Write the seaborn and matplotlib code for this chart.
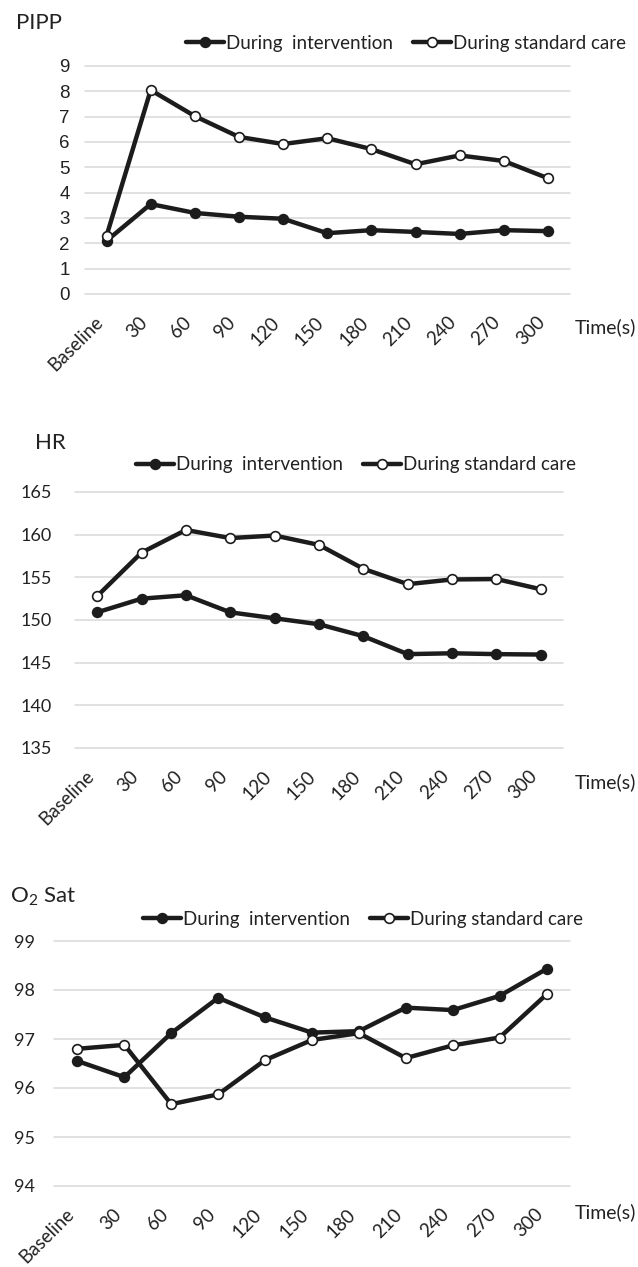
import numpy as np
import pandas as pd
import seaborn as sns
import matplotlib.pyplot as plt
from matplotlib.transforms import ScaledTranslation

# data
time_labels = ["Baseline", "30", "60", "90", "120", "150", "180", "210", "240", "270", "300"]

pipp_intervention = [2.1, 3.55, 3.2, 3.05, 2.97, 2.4, 2.52, 2.45, 2.37, 2.52, 2.48]
pipp_standard = [2.3, 8.05, 7.02, 6.2, 5.92, 6.15, 5.72, 5.12, 5.47, 5.25, 4.57]

hr_intervention = [150.9, 152.5, 152.9, 150.9, 150.2, 149.5, 148.1, 146.0, 146.1, 146.0, 145.95]
hr_standard = [152.8, 157.9, 160.55, 159.6, 159.9, 158.8, 156.0, 154.2, 154.75, 154.8, 153.6]

o2_intervention = [96.55, 96.22, 97.12, 97.84, 97.44, 97.13, 97.16, 97.64, 97.59, 97.88, 98.43]
o2_standard = [96.8, 96.88, 95.67, 95.87, 96.57, 96.98, 97.12, 96.61, 96.87, 97.03, 97.91]

sns.set_theme(style="white")
plt.rcParams["font.family"] = ["Lato", "DejaVu Sans"]
plt.rcParams["mathtext.fontset"] = "custom"
plt.rcParams["mathtext.rm"] = "Lato"
plt.rcParams["mathtext.it"] = "Lato"
plt.rcParams["mathtext.bf"] = "Lato"

W, H = 638, 1267
fig = plt.figure(figsize=(W / 100, H / 100), dpi=100)

LINE = "#1c1c1c"
TXT = "#222222"


def px_axes(left, right, top, bottom):
    return fig.add_axes([left / W, 1 - bottom / H, (right - left) / W, (bottom - top) / H])


# (title, intervention, standard, yticks, axes box, tick pad, title pos, legend pos, time(s) y, ytick font)
panels = [
    ("PIPP", pipp_intervention, pipp_standard, np.arange(0, 10, 1),
     (84.5, 570, 66, 294), 10.5, (16, 23), (186, 43), 327, "Liberation Sans"),
    ("HR", hr_intervention, hr_standard, np.arange(135, 170, 5),
     (75, 563, 492, 748), 16.5, (35, 443), (136, 465), 782, "Lato"),
    ("O$_2$ Sat", o2_intervention, o2_standard, np.arange(94, 100, 1),
     (54, 570, 941, 1186), 13.5, (10, 897), (143, 919), 1212, "Lato"),
]

shift = ScaledTranslation(4 / 100, 0, fig.dpi_scale_trans)

for title, inter, std, yticks, box, ypad, tpos, lpos, ty, yfont in panels:
    ax = px_axes(*box)
    df = pd.DataFrame({"time": time_labels, "inter": inter, "std": std})

    sns.lineplot(data=df, x="time", y="inter", ax=ax, color=LINE, lw=3.2,
                 marker="o", markersize=7, markerfacecolor=LINE,
                 markeredgecolor=LINE, markeredgewidth=1.2,
                 label="During  intervention", sort=False)
    sns.lineplot(data=df, x="time", y="std", ax=ax, color=LINE, lw=3.2,
                 marker="o", markersize=7, markerfacecolor="white",
                 markeredgecolor=LINE, markeredgewidth=1.2,
                 label="During standard care", sort=False)

    ax.set_xlim(-0.5, len(time_labels) - 0.5)
    ax.set_ylim(yticks[0], yticks[-1])
    ax.set_yticks(yticks)
    ax.set_xticks(range(len(time_labels)))
    ax.set_xticklabels(time_labels, rotation=45, ha="right", va="top",
                       fontsize=13.5, color=TXT)
    for lab in ax.get_xticklabels():
        lab.set_transform(lab.get_transform() + shift)
    ax.set_yticklabels([str(v) for v in yticks], fontsize=13.5 if yfont != "Lato" else 13,
                       color=TXT, family=yfont)
    ax.tick_params(axis="both", length=0)
    ax.tick_params(axis="x", pad=14)
    ax.tick_params(axis="y", pad=ypad)
    ax.set_xlabel("")
    ax.set_ylabel("")
    for s in ax.spines.values():
        s.set_visible(False)
    ax.yaxis.grid(True, color="#d9d9d9", lw=1.1)
    ax.xaxis.grid(False)
    ax.set_axisbelow(True)
    for gl in ax.get_ygridlines():
        gl.set_clip_on(False)

    handles, labels = ax.get_legend_handles_labels()
    ax.legend(handles, labels, ncol=2, frameon=False, fontsize=13.5,
              loc="center left", bbox_to_anchor=(lpos[0] / W, 1 - lpos[1] / H),
              bbox_transform=fig.transFigure, borderpad=0, borderaxespad=0,
              handlelength=2.0, handletextpad=0.12, columnspacing=1.1,
              labelcolor=TXT)

    fig.text(tpos[0] / W, 1 - tpos[1] / H, title, fontsize=16, color=TXT,
             ha="left", va="center")
    fig.text(575 / W, 1 - ty / H, "Time(s)", fontsize=14, color=TXT,
             ha="left", va="center")

fig.savefig("out.png", dpi=100)
